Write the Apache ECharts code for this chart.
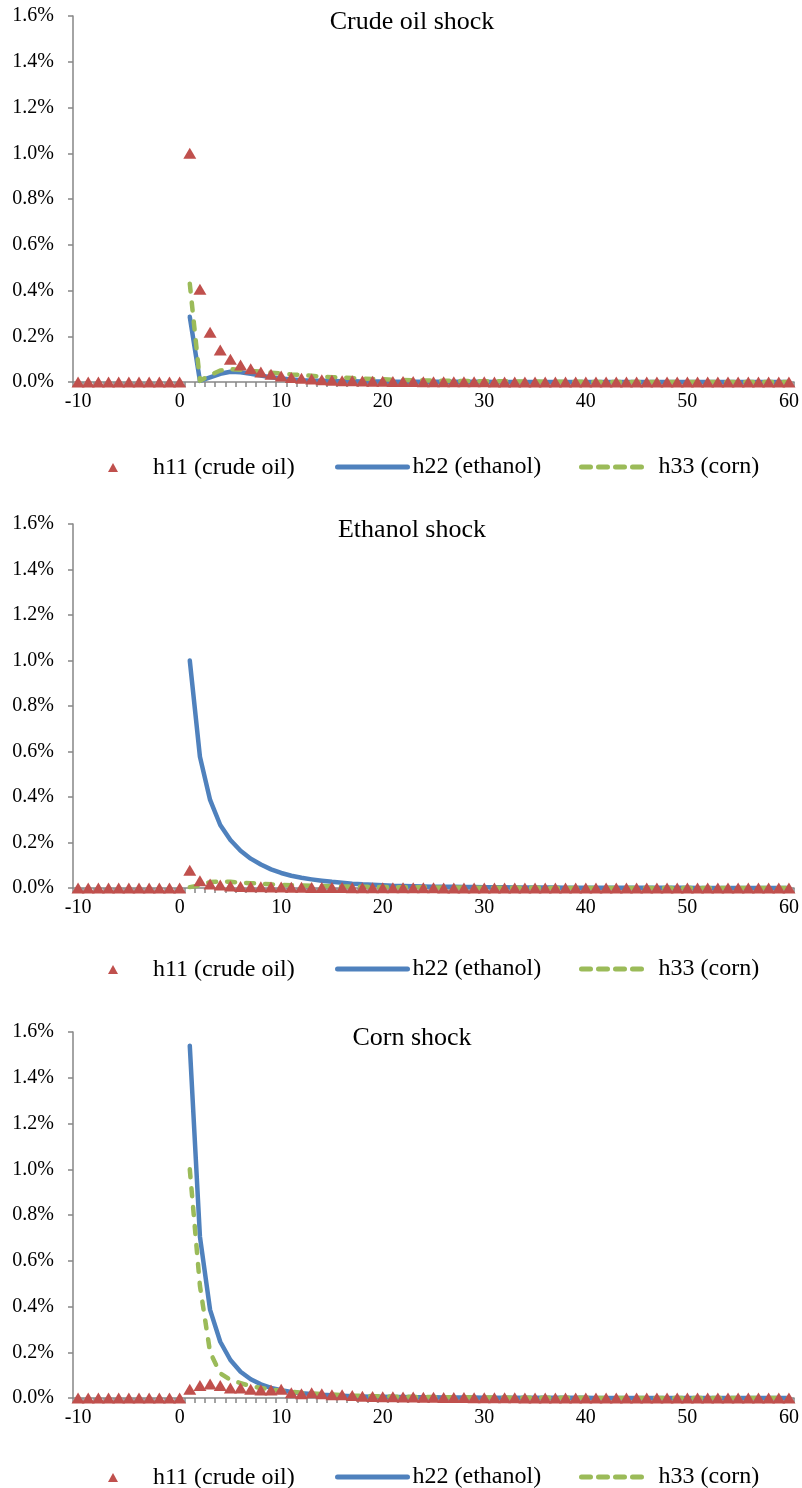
<!DOCTYPE html>
<html><head><meta charset="utf-8">
<script src="https://cdn.jsdelivr.net/npm/echarts@6/dist/echarts.min.js"></script>
<style>html,body{margin:0;padding:0;background:#fff}#c{width:802px;height:1488px}</style>
</head><body><div id="c"></div>
<script>
// ---- data (values in percent) ----
const periods = [-10,-9,-8,-7,-6,-5,-4,-3,-2,-1,0,1,2,3,4,5,6,7,8,9,10,11,12,13,14,15,16,17,18,19,20,21,22,23,24,25,26,27,28,29,30,31,32,33,34,35,36,37,38,39,40,41,42,43,44,45,46,47,48,49,50,51,52,53,54,55,56,57,58,59,60];
const yTickValues = [0,0.2,0.4,0.6,0.8,1.0,1.2,1.4,1.6];
const seriesNames = ['h11 (crude oil)', 'h22 (ethanol)', 'h33 (corn)'];
const panelTitles = ['Crude oil shock', 'Ethanol shock', 'Corn shock'];

// Crude oil shock
const crudeH11 = [0,0,0,0,0,0,0,0,0,0,0,
  1.0,0.405,0.217,0.14,0.099,0.074,0.058,0.044,0.034,0.026,
  0.02,0.016,0.013,0.01,0.008,0.006,0.005,0.004,0.003,0.003,
  0.002,0.002,0.002,0.001,0.001,0.001,0.001,0.001,0.001,0.001,
  0,0,0,0,0,0,0,0,0,0,
  0,0,0,0,0,0,0,0,0,0,
  0,0,0,0,0,0,0,0,0,0];
const crudeH22 = [null,null,null,null,null,null,null,null,null,null,null,
  0.285,0.005,0.02,0.036,0.045,0.043,0.036,0.028,0.021,0.015,
  0.011,0.008,0.006,0.005,0.004,0.003,0.003,0.002,0.002,0.002,
  0.001,0.001,0.001,0.001,0.001,0.001,0.001,0.001,0.001,0.001,
  0,0,0,0,0,0,0,0,0,0,
  0,0,0,0,0,0,0,0,0,0,
  0,0,0,0,0,0,0,0,0,0];
const crudeH33 = [null,null,null,null,null,null,null,null,null,null,null,
  0.43,0.005,0.03,0.05,0.056,0.053,0.049,0.045,0.041,0.037,
  0.033,0.03,0.027,0.024,0.021,0.019,0.017,0.015,0.013,0.012,
  0.01,0.009,0.008,0.007,0.006,0.006,0.005,0.004,0.004,0.003,
  0.003,0.003,0.002,0.002,0.002,0.001,0.001,0.001,0.001,0.001,
  0,0,0,0,0,0,0,0,0,0,
  0,0,0,0,0,0,0,0,0,0];

// Ethanol shock
const ethH11 = [0,0,0,0,0,0,0,0,0,0,0,
  0.078,0.032,0.018,0.013,0.009,0.007,0.006,0.005,0.004,0.004,
  0.003,0.003,0.002,0.002,0.002,0.002,0.001,0.001,0.001,0.001,
  0.001,0.001,0.001,0.001,0.001,0,0,0,0,0,
  0,0,0,0,0,0,0,0,0,0,
  0,0,0,0,0,0,0,0,0,0,
  0,0,0,0,0,0,0,0,0,0];
const ethH22 = [null,null,null,null,null,null,null,null,null,null,null,
  1.0,0.577,0.387,0.277,0.211,0.164,0.129,0.103,0.082,0.066,
  0.054,0.045,0.038,0.032,0.027,0.023,0.019,0.016,0.014,0.012,
  0.01,0.009,0.008,0.007,0.006,0.005,0.005,0.004,0.004,0.003,
  0.003,0.003,0.002,0.002,0.002,0.002,0.002,0.001,0.001,0.001,
  0.001,0.001,0.001,0.001,0.001,0.001,0.001,0.001,0.001,0.001,
  0,0,0,0,0,0,0,0,0,0];
const ethH33 = [null,null,null,null,null,null,null,null,null,null,null,
  0.004,0.012,0.026,0.029,0.027,0.024,0.021,0.019,0.016,0.014,
  0.012,0.011,0.01,0.009,0.008,0.007,0.006,0.005,0.005,0.004,
  0.004,0.003,0.003,0.003,0.002,0.002,0.002,0.002,0.001,0.001,
  0.001,0.001,0.001,0.001,0.001,0,0,0,0,0,
  0,0,0,0,0,0,0,0,0,0,
  0,0,0,0,0,0,0,0,0,0];

// Corn shock
const cornH11 = [0,0,0,0,0,0,0,0,0,0,0,
  0.038,0.055,0.061,0.055,0.044,0.044,0.038,0.035,0.035,0.038,
  0.023,0.019,0.023,0.019,0.014,0.014,0.011,0.008,0.007,0.006,
  0.005,0.004,0.004,0.003,0.003,0.002,0.002,0.002,0.001,0.001,
  0.001,0.001,0.001,0,0,0,0,0,0,0,
  0,0,0,0,0,0,0,0,0,0,
  0,0,0,0,0,0,0,0,0,0];
const cornH22 = [null,null,null,null,null,null,null,null,null,null,null,
  1.54,0.705,0.385,0.246,0.166,0.115,0.082,0.06,0.044,0.034,
  0.026,0.021,0.017,0.014,0.012,0.01,0.008,0.007,0.006,0.005,
  0.004,0.004,0.003,0.003,0.003,0.002,0.002,0.002,0.002,0.001,
  0.001,0.001,0.001,0.001,0.001,0.001,0.001,0.001,0.001,0.001,
  0,0,0,0,0,0,0,0,0,0,
  0,0,0,0,0,0,0,0,0,0];
const cornH33 = [null,null,null,null,null,null,null,null,null,null,null,
  1.0,0.49,0.2,0.108,0.079,0.065,0.052,0.044,0.038,0.032,
  0.027,0.023,0.02,0.017,0.015,0.013,0.011,0.01,0.008,0.007,
  0.006,0.005,0.005,0.004,0.004,0.003,0.003,0.003,0.002,0.002,
  0.002,0.002,0.001,0.001,0.001,0.001,0.001,0.001,0.001,0.001,
  0,0,0,0,0,0,0,0,0,0,
  0,0,0,0,0,0,0,0,0,0];

// ---- layout / style ----
const FONT = 'Liberation Serif';
const RED = '#C0504D', BLUE = '#4F81BD', GREEN = '#9BBB59', AXIS = '#868686';
const panels = [
  {title: panelTitles[0], d: [crudeH11, crudeH22, crudeH33], gridTop: 16, gridH: 366, titleTop: 9, legendY: 460},
  {title: panelTitles[1], d: [ethH11, ethH22, ethH33], gridTop: 524, gridH: 364, titleTop: 517, legendY: 962},
  {title: panelTitles[2], d: [cornH11, cornH22, cornH33], gridTop: 1032, gridH: 366, titleTop: 1025, legendY: 1470}
];

const option = {animation: false, backgroundColor: '#fff', title: [], grid: [], xAxis: [], yAxis: [], legend: [], series: []};

panels.forEach((p, i) => {
  option.title.push({text: p.title, left: 412, textAlign: 'center', top: p.titleTop, padding: 0,
    textStyle: {fontFamily: FONT, fontSize: 26, fontWeight: 'normal', color: '#000'}});
  option.grid.push({left: 73, width: 721, top: p.gridTop, height: p.gridH, containLabel: false});
  option.xAxis.push({type: 'category', gridIndex: i, data: periods, boundaryGap: true,
    axisLine: {show: true, lineStyle: {color: AXIS, width: 1.5}},
    axisTick: {show: true, interval: 0, length: 5, lineStyle: {color: AXIS, width: 1.5}},
    axisLabel: {interval: 9, fontFamily: FONT, fontSize: 20, color: '#000', margin: 10},
    splitLine: {show: false}});
  option.yAxis.push({type: 'value', gridIndex: i, min: yTickValues[0], max: yTickValues[yTickValues.length - 1], interval: 0.2,
    axisLine: {show: true, lineStyle: {color: AXIS, width: 1.5}},
    axisTick: {show: true, length: 5, lineStyle: {color: AXIS, width: 1.5}},
    axisLabel: {fontFamily: FONT, fontSize: 20, color: '#000', margin: 19, formatter: v => v.toFixed(1) + '%'},
    splitLine: {show: false}});
  const txt = {fontFamily: FONT, fontSize: 24, color: '#000'};
  option.legend.push({left: 108, top: p.legendY - 4.5, padding: 0, itemWidth: 10, itemHeight: 9, selectedMode: false,
    data: [{name: seriesNames[0], icon: 'triangle'}], textStyle: Object.assign({padding: [0, 0, 0, 30]}, txt)});
  option.legend.push({left: 335, top: p.legendY - 5, padding: 0, itemWidth: 70, itemHeight: 10, selectedMode: false,
    data: [seriesNames[1]], lineStyle: {width: 5}, itemStyle: {opacity: 0, borderWidth: 0}, textStyle: txt});
  option.legend.push({left: 579, top: p.legendY - 5, padding: 0, itemWidth: 62, itemHeight: 10, selectedMode: false,
    data: [seriesNames[2]], lineStyle: {width: 5, type: [9, 8], cap: 'round'}, itemStyle: {opacity: 0, borderWidth: 0},
    textStyle: Object.assign({padding: [0, 0, 0, 10]}, txt)});

  option.series.push({name: seriesNames[1], type: 'line', xAxisIndex: i, yAxisIndex: i, data: p.d[1], symbol: 'none',
    connectNulls: false, z: 3, lineStyle: {color: BLUE, width: 4.5, cap: 'round', join: 'round'}, itemStyle: {color: BLUE}});
  option.series.push({name: seriesNames[2], type: 'line', xAxisIndex: i, yAxisIndex: i, data: p.d[2], symbol: 'none',
    connectNulls: false, z: 4, lineStyle: {color: GREEN, width: 4.5, type: [8, 11], cap: 'round', join: 'round'}, itemStyle: {color: GREEN}});
  option.series.push({name: seriesNames[0], type: 'scatter', xAxisIndex: i, yAxisIndex: i, data: p.d[0], symbol: 'triangle',
    symbolSize: [13, 11], z: 5, itemStyle: {color: RED, opacity: 1}});
});

const chart = echarts.init(document.getElementById('c'), null, {renderer: 'canvas'});
chart.setOption(option);
</script></body></html>
